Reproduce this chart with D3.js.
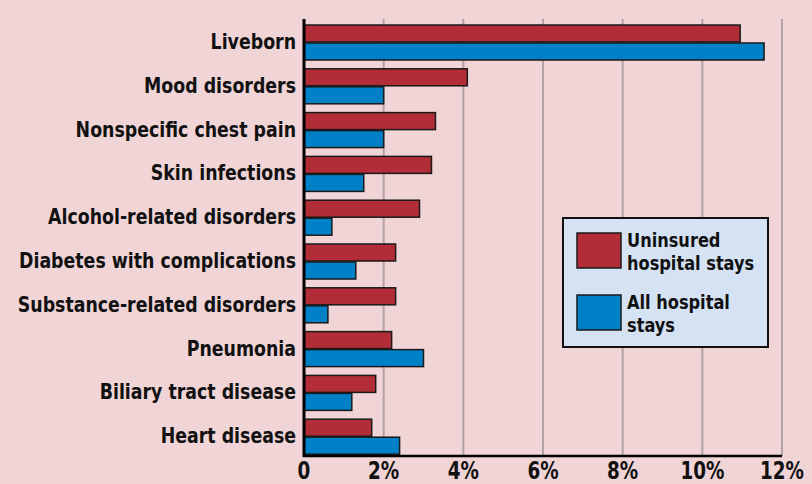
<!DOCTYPE html>
<html lang="en">
<head>
<meta charset="utf-8">
<title>Uninsured hospital stays by diagnosis</title>
<script src="https://d3js.org/d3.v7.min.js"></script>
<style>
  html, body { margin: 0; padding: 0; background: #f0d4d6; }
  svg { display: block; }
  .lbl { font-family: "Liberation Sans Narrow", "DejaVu Sans Condensed", sans-serif; font-weight: bold; font-stretch: condensed; }
</style>
</head>
<body>
<script>
// data
var categories = ["Liveborn", "Mood disorders", "Nonspecific chest pain", "Skin infections",
  "Alcohol-related disorders", "Diabetes with complications", "Substance-related disorders",
  "Pneumonia", "Biliary tract disease", "Heart disease"];
var uninsured = [10.95, 4.1, 3.3, 3.2, 2.9, 2.3, 2.3, 2.2, 1.8, 1.7];
var allStays  = [11.55, 2.0, 2.0, 1.5, 0.7, 1.3, 0.6, 3.0, 1.2, 2.4];
var seriesNames = [["Uninsured", "hospital stays"], ["All hospital", "stays"]];
var colors = ["#b22d37", "#0080c6"];
var ticks = [0, 2, 4, 6, 8, 10, 12];

var W = 812, H = 484;
var svg = d3.select("body").append("svg").attr("width", W).attr("height", H);

var x = d3.scaleLinear().domain([0, 12]).range([304, 782]);
var y = d3.scaleBand().domain(categories).range([20, 458]);

// squeeze the condensed text a bit more, like the original type
function squeeze(px, py, k) {
  return "translate(" + px + "," + py + ") scale(" + k + ",1)";
}

// grid lines
svg.append("g").selectAll("line")
  .data(ticks.slice(1))
  .enter().append("line")
  .attr("x1", function (d) { return x(d); })
  .attr("x2", function (d) { return x(d); })
  .attr("y1", 19).attr("y2", 456)
  .attr("stroke", "#b2a2a5").attr("stroke-width", 2);

// bars
var barH = 17;
var rows = svg.append("g").selectAll("g")
  .data(categories)
  .enter().append("g")
  .attr("transform", function (d) { return "translate(0," + y(d) + ")"; });

rows.append("rect")
  .attr("x", x(0))
  .attr("y", 5)
  .attr("width", function (d, i) { return x(uninsured[i]) - x(0); })
  .attr("height", barH)
  .attr("fill", colors[0]).attr("stroke", "#1a1a1a").attr("stroke-width", 1.5);

rows.append("rect")
  .attr("x", x(0))
  .attr("y", 5 + barH + 1)
  .attr("width", function (d, i) { return x(allStays[i]) - x(0); })
  .attr("height", barH)
  .attr("fill", colors[1]).attr("stroke", "#1a1a1a").attr("stroke-width", 1.5);

rows.append("text")
  .attr("class", "lbl")
  .attr("transform", squeeze(296, 5 + barH + 7, 0.92))
  .attr("text-anchor", "end")
  .attr("font-size", 21)
  .attr("fill", "#111")
  .text(function (d) { return d; });

// axes lines
svg.append("line")
  .attr("x1", x(0)).attr("x2", x(0)).attr("y1", 19).attr("y2", 457)
  .attr("stroke", "#000").attr("stroke-width", 3);
svg.append("line")
  .attr("x1", x(0) - 1).attr("x2", x(12)).attr("y1", 456).attr("y2", 456)
  .attr("stroke", "#000").attr("stroke-width", 2.5);

// tick labels
svg.append("g").selectAll("text")
  .data(ticks)
  .enter().append("text")
  .attr("class", "lbl")
  .attr("transform", function (d) { return squeeze(x(d), 479, 0.85); })
  .attr("text-anchor", "middle")
  .attr("font-size", 24)
  .attr("fill", "#111")
  .text(function (d) { return d === 0 ? "0" : d + "%"; });

// legend
var lg = svg.append("g");
lg.append("rect")
  .attr("x", 563).attr("y", 218).attr("width", 205).attr("height", 129)
  .attr("fill", "#d4e2f4").attr("stroke", "#111").attr("stroke-width", 2);

var items = lg.selectAll("g.item")
  .data(seriesNames)
  .enter().append("g")
  .attr("class", "item")
  .attr("transform", function (d, i) { return "translate(0," + (i * 62) + ")"; });

items.append("rect")
  .attr("x", 577).attr("y", 233).attr("width", 44).attr("height", 35)
  .attr("fill", function (d, i) { return colors[i]; })
  .attr("stroke", "#1a1a1a").attr("stroke-width", 1.5);

items.append("text")
  .attr("class", "lbl")
  .attr("transform", squeeze(627, 247, 0.9))
  .attr("font-size", 20)
  .attr("fill", "#111")
  .text(function (d) { return d[0]; });

items.append("text")
  .attr("class", "lbl")
  .attr("transform", squeeze(627, 270, 0.9))
  .attr("font-size", 20)
  .attr("fill", "#111")
  .text(function (d) { return d[1]; });
</script>
</body>
</html>
